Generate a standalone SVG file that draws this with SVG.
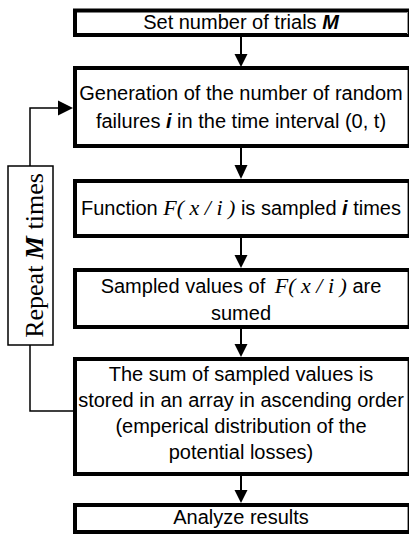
<svg xmlns="http://www.w3.org/2000/svg" width="409" height="535" viewBox="0 0 409 535">
<defs>
<style>
.box{fill:#fff;stroke:#000;stroke-width:4}
.edge{stroke:#999;stroke-width:1}
.t{font-family:"Liberation Sans",Arial,sans-serif;font-size:20px;fill:#000;text-anchor:middle}
.m{font-family:"Liberation Serif","Times New Roman",serif;font-style:italic;font-size:22px}
.bi{font-weight:bold;font-style:italic}
.ln{fill:none;stroke:#000;stroke-width:2}
.thin{fill:none;stroke:#000;stroke-width:1.5}
.ah{fill:#000}
</style>
</defs>
<rect width="409" height="535" fill="#fff"/>
<g id="connectors">
<line class="ln" x1="241" y1="37" x2="241" y2="55"/>
<polygon class="ah" points="234.5,54 247.5,54 241,67"/>
<line class="ln" x1="241" y1="148" x2="241" y2="166"/>
<polygon class="ah" points="234.5,165 247.5,165 241,179"/>
<line class="ln" x1="241" y1="238" x2="241" y2="256"/>
<polygon class="ah" points="234.5,255 247.5,255 241,268"/>
<line class="ln" x1="241" y1="329" x2="241" y2="345"/>
<polygon class="ah" points="234.5,344 247.5,344 241,357"/>
<line class="ln" x1="241" y1="476" x2="241" y2="491"/>
<polygon class="ah" points="234.5,490 247.5,490 241,503"/>
<polyline class="thin" points="73,411 30,411 30,345"/>
<polyline class="thin" points="30,166 30,108 59,108"/>
<polygon class="ah" points="58,100.5 73,108 58,115.5"/>
</g>
<g id="n1">
<rect class="box" x="75" y="10.5" width="335" height="24.5"/>
<line class="edge" x1="407.5" y1="12" x2="407.5" y2="34"/>
<text class="t" x="241" y="29">Set number of trials <tspan class="bi">M</tspan></text>
</g>
<g id="n2">
<rect class="box" x="75" y="68" width="335" height="78"/>
<line class="edge" x1="407.5" y1="70" x2="407.5" y2="144"/>
<text class="t" x="241" y="100">Generation of the number of random</text>
<text class="t" x="241" y="128">failures <tspan class="bi">i</tspan> in the time interval (0, t)</text>
</g>
<g id="n3">
<rect class="box" x="75" y="181" width="335" height="55"/>
<line class="edge" x1="407.5" y1="183" x2="407.5" y2="234"/>
<text class="t" x="241" y="215">Function <tspan class="m">F( x / i )</tspan> is sampled <tspan class="bi">i</tspan> times</text>
</g>
<g id="n4">
<rect class="box" x="75" y="270" width="335" height="57"/>
<line class="edge" x1="407.5" y1="272" x2="407.5" y2="325"/>
<text class="t" x="241" y="293">Sampled values of <tspan class="m" dx="4">F( x / i )</tspan> are</text>
<text class="t" x="241" y="320">sumed</text>
</g>
<g id="n5">
<rect class="box" x="75" y="359" width="335" height="115"/>
<line class="edge" x1="407.5" y1="361" x2="407.5" y2="472"/>
<text class="t" x="241" y="381">The sum of sampled values is</text>
<text class="t" x="241" y="407">stored in an array in ascending order</text>
<text class="t" x="241" y="433">(emperical distribution of the</text>
<text class="t" x="241" y="459">potential losses)</text>
</g>
<g id="n6">
<rect class="box" x="75" y="505" width="335" height="27"/>
<line class="edge" x1="407.5" y1="507" x2="407.5" y2="530"/>
<text class="t" x="241" y="524">Analyze results</text>
</g>
<g id="loop">
<rect x="8" y="166" width="45" height="179" fill="#fff" stroke="#000" stroke-width="1.5"/>
<text transform="translate(43,255.5) rotate(-90)" text-anchor="middle" font-family="'Liberation Serif','Times New Roman',serif" font-size="26">Repeat <tspan font-weight="bold" font-style="italic">M</tspan> times</text>
</g>
</svg>
